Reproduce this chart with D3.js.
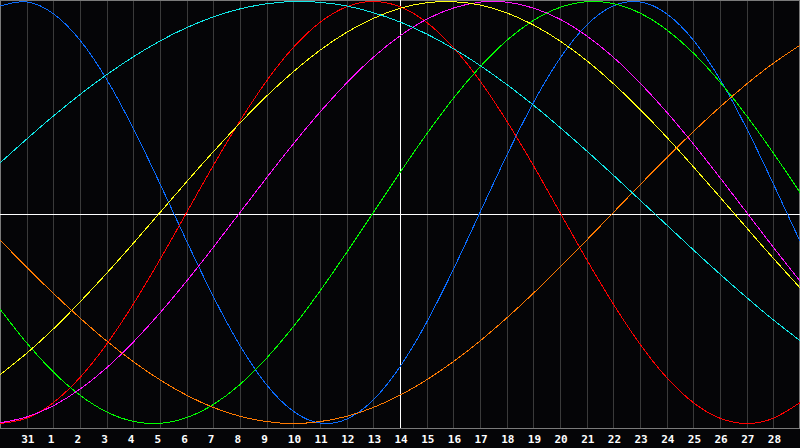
<!DOCTYPE html>
<html>
<head>
<meta charset="utf-8">
<script src="https://cdn.jsdelivr.net/npm/d3@7"></script>
<style>
  html, body { margin: 0; padding: 0; background: #050507; }
  svg { display: block; }
</style>
</head>
<body>
<div id="chart"></div>
<script>
// jours affichés sous les graduations (index 1..29)
const dayLabels = [31, 1, 2, 3, 4, 5, 6, 7, 8, 9, 10, 11, 12, 13, 14, 15, 16, 17, 18, 19, 20, 21, 22, 23, 24, 25, 26, 27, 28];

// valeurs, un point par jour (index 0..30)
const physical = [0.979, 0.998, 0.942, 0.817, 0.631, 0.398, 0.136, -0.136, -0.398, -0.631, -0.817, -0.942, -0.998, -0.979, -0.888, -0.731, -0.520, -0.270, 0, 0.270, 0.520, 0.731, 0.888, 0.979, 0.998, 0.942, 0.817, 0.631, 0.398, 0.136, -0.136];
const emotional = [-1, -0.975, -0.901, -0.782, -0.624, -0.434, -0.223, 0, 0.223, 0.434, 0.624, 0.782, 0.901, 0.975, 1, 0.975, 0.901, 0.782, 0.624, 0.434, 0.223, 0, -0.223, -0.434, -0.624, -0.782, -0.901, -0.975, -1, -0.975, -0.901];
const intellectual = [-0.458, -0.618, -0.756, -0.866, -0.945, -0.990, -0.999, -0.972, -0.910, -0.815, -0.690, -0.541, -0.372, -0.189, 0, 0.189, 0.372, 0.541, 0.690, 0.815, 0.910, 0.972, 0.999, 0.990, 0.945, 0.866, 0.756, 0.618, 0.458, 0.282, 0.095];
const intuitive = [-0.997, -0.969, -0.916, -0.837, -0.736, -0.614, -0.476, -0.325, -0.165, 0, 0.165, 0.325, 0.476, 0.614, 0.736, 0.837, 0.916, 0.969, 0.997, 0.997, 0.969, 0.916, 0.837, 0.736, 0.614, 0.476, 0.325, 0.165, 0, -0.165, -0.325];
const aesthetic = [-0.769, -0.667, -0.552, -0.424, -0.288, -0.146, 0, 0.146, 0.288, 0.424, 0.552, 0.667, 0.769, 0.854, 0.920, 0.968, 0.994, 0.999, 0.983, 0.946, 0.889, 0.813, 0.720, 0.611, 0.489, 0.357, 0.217, 0.073, -0.073, -0.217, -0.357];
const awareness = [-0.131, -0.259, -0.383, -0.5, -0.609, -0.707, -0.793, -0.866, -0.924, -0.966, -0.991, -1, -0.991, -0.966, -0.924, -0.866, -0.793, -0.707, -0.609, -0.5, -0.383, -0.259, -0.131, 0, 0.131, 0.259, 0.383, 0.5, 0.609, 0.707, 0.793];
const spiritual = [0.235, 0.348, 0.457, 0.559, 0.653, 0.738, 0.813, 0.876, 0.927, 0.965, 0.989, 1.000, 0.996, 0.979, 0.947, 0.903, 0.846, 0.777, 0.697, 0.607, 0.509, 0.403, 0.292, 0.177, 0.059, -0.059, -0.177, -0.292, -0.403, -0.509, -0.607];

const seriesNames = ["physical", "emotional", "intellectual", "intuitive", "aesthetic", "awareness", "spiritual"];
const seriesValues = [physical, emotional, intellectual, intuitive, aesthetic, awareness, spiritual];
const seriesColors = ["#0a6cff", "#ff0000", "#00ff00", "#ff10ff", "#ffff10", "#ff7a00", "#10e8e8"];

const todayIndex = 15; // le 14

const width = 800, height = 448;
const plotBottom = 428;

const svg = d3.select("#chart").append("svg")
    .attr("width", width)
    .attr("height", height)
    .style("background", "#050507");

const x = d3.scaleLinear().domain([0, 30]).range([0, 800]);
const y = d3.scaleLinear().domain([-1, 1]).range([423.5, 1.5]);

// --- Grille verticale ---
const gridAxis = d3.axisBottom(x)
    .tickValues(d3.range(1, 30))
    .tickSize(-plotBottom)
    .tickFormat("");

svg.append("g")
    .attr("transform", `translate(0,${plotBottom})`)
    .call(gridAxis)
    .call(g => g.select(".domain").remove())
    .call(g => g.selectAll("line")
        .attr("stroke", "#3a3a3a")
        .attr("shape-rendering", "crispEdges"));

// --- Cadre ---
svg.append("rect")
    .attr("x", 0.5)
    .attr("y", 0.5)
    .attr("width", 798.5)
    .attr("height", plotBottom - 0.5)
    .attr("fill", "none")
    .attr("stroke", "#7a7a7a")
    .attr("shape-rendering", "crispEdges");

// --- Croix blanche (aujourd'hui / ligne zéro) ---
svg.append("line")
    .attr("x1", x(todayIndex)).attr("x2", x(todayIndex))
    .attr("y1", 0).attr("y2", plotBottom)
    .attr("stroke", "#ffffff")
    .attr("shape-rendering", "crispEdges");

svg.append("line")
    .attr("x1", 0).attr("x2", 800)
    .attr("y1", 214).attr("y2", 214)
    .attr("stroke", "#ffffff")
    .attr("shape-rendering", "crispEdges");

// --- Courbes ---
const line = d3.line()
    .x((d, i) => x(i))
    .y(d => y(d))
    .curve(d3.curveNatural);

svg.append("g")
    .attr("fill", "none")
    .attr("stroke-width", 1)
    .selectAll("path")
    .data(seriesValues)
    .join("path")
    .attr("class", (d, i) => seriesNames[i])
    .attr("stroke", (d, i) => seriesColors[i])
    .attr("shape-rendering", "crispEdges")
    .attr("d", line);

// --- Etiquettes des jours ---
const labelAxis = d3.axisBottom(x)
    .tickValues(d3.range(1, 30))
    .tickSize(0)
    .tickFormat(i => dayLabels[i - 1]);

svg.append("g")
    .attr("transform", `translate(0,${plotBottom})`)
    .call(labelAxis)
    .call(g => g.select(".domain").remove())
    .call(g => g.selectAll("text")
        .attr("fill", "#ffffff")
        .attr("text-anchor", "start")
        .attr("x", -6)
        .attr("y", 15)
        .attr("dy", 0)
        .attr("font-family", "'DejaVu Sans Mono', monospace")
        .attr("font-weight", "bold")
        .attr("font-size", 11));
</script>
</body>
</html>
